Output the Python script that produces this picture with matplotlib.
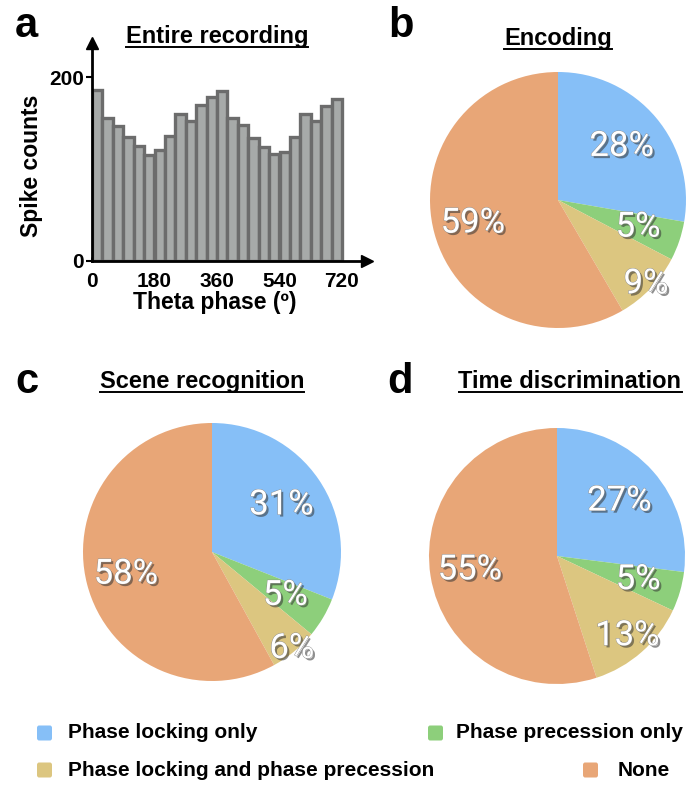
import numpy as np
import matplotlib
matplotlib.use("Agg")
import matplotlib.pyplot as plt
import matplotlib.patheffects as pe
from matplotlib.lines import Line2D
from matplotlib.patches import FancyBboxPatch

# theta-phase histogram (two cycles, 30 deg bins)
phase_edges = np.arange(0, 721, 30)
spike_counts = [186, 156, 147, 135, 125, 115, 121, 136, 160, 152, 170, 178,
                185, 155, 148, 134, 124, 116, 118, 135, 160, 152, 169, 176]
phase_ticks = [0, 180, 360, 540, 720]
count_ticks = [0, 200]

categories = ["Phase locking only", "Phase precession only",
              "Phase locking and phase precession", "None"]
encoding = [28, 5, 9, 59]
scene_recognition = [31, 5, 6, 58]
time_discrimination = [27, 5, 13, 55]

colors = ["#86bff7", "#8dcf7b", "#dcc680", "#e8a677"]

W, H = 691, 785
BOLD = dict(family=["Liberation Sans", "DejaVu Sans"], weight="bold")


def fx(x):
    return x / W


def fy(y):
    return 1 - y / H


fig = plt.figure(figsize=(W / 100, H / 100), dpi=100)

# ---- panel a: histogram with arrow axes
ax = fig.add_axes([fx(92), fy(261), fx(367 - 92), (261 - 43) / H])
ax.bar(phase_edges[:-1], spike_counts, width=30, align="edge",
       color="#a7aaa9", edgecolor="#6c6c6c", linewidth=2.4, zorder=2)
ax.set_xlim(0, 792)
ax.set_ylim(0, 237)
for s in ("top", "right"):
    ax.spines[s].set_visible(False)
for s in ("left", "bottom"):
    ax.spines[s].set_linewidth(2)
    ax.spines[s].set_zorder(3)
ax.plot(1, 0, ">k", ms=9, transform=ax.transAxes, clip_on=False)
ax.plot(0, 1, "^k", ms=9, transform=ax.transAxes, clip_on=False)
ax.set_xticks(phase_ticks)
ax.set_yticks(count_ticks)
ax.tick_params(axis="x", direction="in", length=3, width=2, pad=8)
ax.tick_params(axis="y", direction="out", length=4, width=1.5, pad=2)
for lab in ax.get_xticklabels() + ax.get_yticklabels():
    lab.set_fontsize(15)
    lab.set_fontfamily(BOLD["family"])
    lab.set_fontweight("bold")
fig.text(fx(32), fy(166), "Spike counts", rotation=90, ha="center",
         va="center", fontsize=16.5, **BOLD)
fig.text(fx(215), fy(302), "Theta phase (º)", ha="center", va="center",
         fontsize=16.5, **BOLD)

# ---- pies
pies = [
    (encoding, (558, 200), 128, 0.95),
    (scene_recognition, (212, 552), 129, 0.97),
    (time_discrimination, (557, 556), 128, 0.83),
]
label_fx = [pe.SimplePatchShadow(offset=(1.6, -1.6), shadow_rgbFace="#333333",
                                 alpha=0.55),
            pe.Stroke(linewidth=0.6, foreground="#8a8a8a"),
            pe.Normal()]

for values, (cx, cy), r, inner_dist in pies:
    pax = fig.add_axes([fx(cx - r), fy(cy + r), 2 * r / W, 2 * r / H])
    wedges, _ = pax.pie(values, colors=colors, startangle=90, counterclock=False,
                        wedgeprops=dict(linewidth=0))
    pax.set_xlim(-1, 1)
    pax.set_ylim(-1, 1)
    pax.set_aspect("equal")
    pax.axis("off")
    dists = [0.65, 0.66, inner_dist, 0.69]
    for w, v, d in zip(wedges, values, dists):
        ang = np.deg2rad((w.theta1 + w.theta2) / 2)
        pax.text(d * np.cos(ang), d * np.sin(ang), f"{v}%", ha="center",
                 va="center", fontsize=25, color="white",
                 family=["Roboto", "DejaVu Sans"], weight="normal",
                 path_effects=label_fx)

# ---- titles and panel letters
titles = [("Entire recording", 217, 43), ("Encoding", 558, 45),
          ("Scene recognition", 202, 388), ("Time discrimination", 570, 388)]
title_texts = []
for t, x, y in titles:
    title_texts.append(fig.text(fx(x), fy(y), t, ha="center", va="baseline",
                                fontsize=17, **BOLD))

for letter, x, y in [("a", 15, 37), ("b", 388, 37), ("c", 15, 393), ("d", 387, 393)]:
    fig.text(fx(x), fy(y), letter, ha="left", va="baseline", fontsize=30, **BOLD)

fig.canvas.draw()
for txt, (_, _, y) in zip(title_texts, titles):
    bb = txt.get_window_extent()
    fig.add_artist(Line2D([bb.x0 / W, bb.x1 / W], [fy(y + 3.5)] * 2,
                          color="black", linewidth=1.4))

# ---- legend
legend_layout = [(37, 68, 733), (428, 456, 733), (37, 68, 770), (583, 618, 770)]
for cat, col, (sx, tx, y) in zip(categories, colors, legend_layout):
    fig.add_artist(FancyBboxPatch((fx(sx), fy(y + 7.5)), 15 / W, 15 / H,
                                  boxstyle="round,pad=0,rounding_size=0.003",
                                  facecolor=col, edgecolor="none",
                                  transform=fig.transFigure))
    fig.text(fx(tx), fy(y), cat, ha="left", va="center", fontsize=15, **BOLD)

fig.savefig("out.png", dpi=100)
